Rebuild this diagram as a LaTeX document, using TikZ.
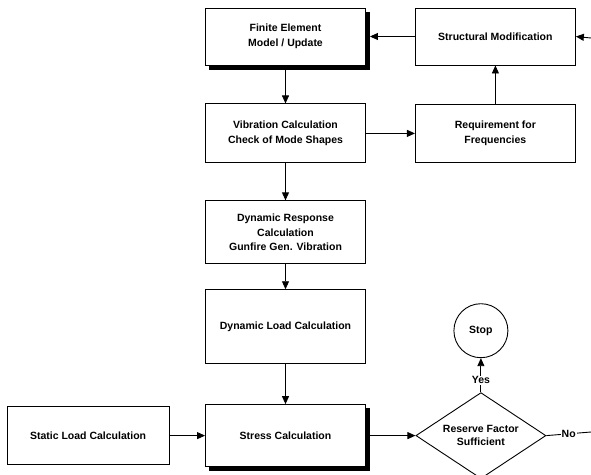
\documentclass[tikz,border=0pt]{standalone}
\usepackage{fontspec}
\setmainfont{Liberation Sans}
\usetikzlibrary{arrows.meta,positioning,shapes.geometric}

\begin{document}
\begin{tikzpicture}[x=1pt, y=-1pt,
  box/.style={draw, line width=0.9pt, fill=white, align=center, minimum width=160pt, inner sep=2pt, font=\fontsize{10.5}{14.5}\selectfont\bfseries},
  shade/.style={box, fill=black, xshift=4pt, yshift=-4pt},
  decision/.style={draw, diamond, aspect=1.5, line width=0.9pt, minimum width=130pt, minimum height=86pt, inner sep=0pt, align=center, font=\fontsize{10.5}{13}\selectfont\bfseries},
  terminal/.style={draw, circle, line width=0.9pt, minimum size=54pt, font=\fontsize{10.5}{13}\selectfont\bfseries},
  tag/.style={fill=white, inner sep=1pt, font=\fontsize{10.5}{13}\selectfont\bfseries},
  arr/.style={-{Triangle[length=8pt,width=7pt]}, line width=0.9pt}
]
\useasboundingbox (0,0) rectangle (591,474);

\node[shade, minimum height=57pt] (feshade) at (285.5,36.5) {};
\node[box, minimum height=57pt] (fe) at (285.5,36.5) {Finite Element\\Model / Update};
\node[box, minimum height=57pt, right=49pt of fe] (sm) {Structural Modification};
\node[box, minimum height=59pt, below=38pt of fe] (vib) {Vibration Calculation\\Check of Mode Shapes};
\node[box, minimum height=58pt, right=49pt of vib] (req) {Requirement for\\Frequencies};
\node[box, minimum height=63pt, below=37pt of vib] (resp) {Dynamic Response\\Calculation\\Gunfire Gen. Vibration};
\node[box, minimum height=74pt, below=25pt of resp] (dynload) {Dynamic Load Calculation};
\node[shade, minimum height=62pt, below=40pt of dynload] (stressshade) {};
\node[box, minimum height=62pt, below=40pt of dynload] (stress) {Stress Calculation};
\node[box, minimum width=162pt, minimum height=58pt, left=35.5pt of stress] (static) {Static Load Calculation};
\node[decision, right=49.5pt of stress] (rf) {Reserve Factor\\Sufficient};
\node[terminal, above=34pt of rf] (stop) {Stop};

\coordinate (smin) at (591,38);
\coordinate (noout) at (591,432);

\draw[arr] (smin) -- (sm.east);
\draw[arr] (sm.west) -- (feshade.east |- sm.west);
\draw[arr] (fe.south) -- (vib.north);
\draw[arr] (vib.east) -- (req.west);
\draw[arr] (req.north) -- (sm.south);
\draw[arr] (vib.south) -- (resp.north);
\draw[arr] (resp.south) -- (dynload.north);
\draw[arr] (dynload.south) -- (stress.north);
\draw[arr] (static.east) -- (stress.west);
\draw[arr] (stressshade.east |- stress.east) -- (rf.west);
\draw[arr] (rf.north) -- node[tag, pos=0.35] {Yes} (stop.south);
\draw[line width=0.9pt] (rf.east) -- node[tag] {No} (noout);

\end{tikzpicture}
\end{document}
